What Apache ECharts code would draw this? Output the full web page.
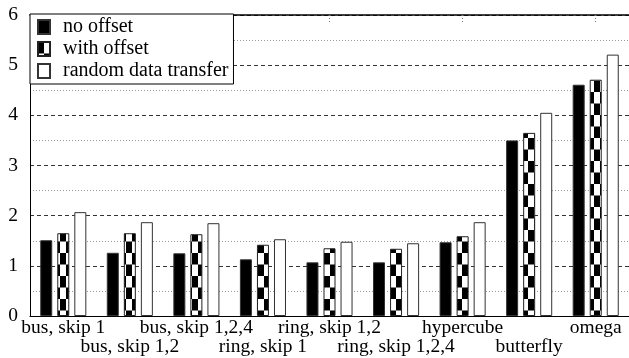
<!DOCTYPE html>
<html>
<head>
<meta charset="utf-8">
<script src="https://cdn.jsdelivr.net/npm/echarts@6/dist/echarts.min.js"></script>
<style>
html,body{margin:0;padding:0;background:#fff;}
#chart{width:629px;height:358px;}
</style>
</head>
<body>
<div id="chart"></div>
<script>
var categories = ['bus, skip 1','bus, skip 1,2','bus, skip 1,2,4','ring, skip 1','ring, skip 1,2','ring, skip 1,2,4','hypercube','butterfly','omega'];
var noOffset = [1.51, 1.26, 1.25, 1.13, 1.07, 1.07, 1.47, 3.50, 4.61];
var withOffset = [1.65, 1.65, 1.63, 1.42, 1.35, 1.34, 1.59, 3.65, 4.71];
var randomTransfer = [2.07, 1.87, 1.85, 1.53, 1.48, 1.45, 1.87, 4.05, 5.21];
var seriesNames = ['no offset', 'with offset', 'random data transfer'];
var yTicks = [0, 1, 2, 3, 4, 5, 6];

var FONT = 'Liberation Serif';

var pc = document.createElement('canvas');
pc.width = 12; pc.height = 23;
var g = pc.getContext('2d');
g.fillStyle = '#fff'; g.fillRect(0, 0, 12, 23);
g.fillStyle = '#000';
g.fillRect(0, 0, 6, 11.5);
g.fillRect(6, 11.5, 6, 11.5);
var checker = { image: pc, repeat: 'repeat' };

var chart = echarts.init(document.getElementById('chart'), null, { renderer: 'canvas' });
var option = {
  animation: false,
  backgroundColor: '#fff',
  textStyle: { fontFamily: FONT },
  grid: { left: 30, top: 15, width: 602, bottom: 42, containLabel: false },
  legend: {
    left: 30, top: 14,
    orient: 'vertical',
    icon: 'rect',
    backgroundColor: '#fff',
    borderColor: '#000', borderWidth: 1,
    borderRadius: 0,
    padding: [3, 5, 3, 7],
    itemWidth: 12, itemHeight: 14, itemGap: 2,
    textStyle: { fontFamily: FONT, fontSize: 20, color: '#000', padding: [0, 0, 0, 8], lineHeight: 18 },
    data: seriesNames,
    selectedMode: false
  },
  xAxis: [{
    type: 'category',
    data: categories,
    axisLine: { lineStyle: { color: '#000', width: 1 } },
    axisTick: { show: false },
    axisLabel: {
      interval: 0, margin: 2, color: '#000', fontFamily: FONT, fontSize: 19.5, lineHeight: 19,
      formatter: function (v, i) { return i % 2 === 1 ? '\n' + v : v; }
    },
    splitLine: { show: false }
  }, {
    type: 'category',
    data: categories,
    position: 'top',
    axisLine: { show: true, lineStyle: { color: '#000', width: 1.5 } },
    axisTick: { show: true, inside: true, length: 8, alignWithLabel: true, lineStyle: { color: '#777', type: [1, 2] } },
    axisLabel: { show: false }
  }],
  yAxis: {
    type: 'value',
    min: 0, max: 6, interval: 1,
    axisLine: { show: true, lineStyle: { color: '#000', width: 1 } },
    axisTick: { show: false },
    axisLabel: { color: '#000', fontFamily: FONT, fontSize: 19.5, margin: 12,
      formatter: function (v) { return yTicks.indexOf(v) >= 0 ? String(v) : ''; } },
    splitLine: { show: true, lineStyle: { color: '#333', type: [4, 3], width: 1 } },
    minorTick: { show: false, splitNumber: 2 },
    minorSplitLine: { show: true, lineStyle: { color: '#999', type: [1, 2], width: 1 } }
  },
  series: [{
    name: seriesNames[0], type: 'bar', data: noOffset,
    barWidth: 12, barGap: '42%',
    itemStyle: { color: '#000', borderColor: '#333', borderWidth: 1 }
  }, {
    name: seriesNames[1], type: 'bar', data: withOffset,
    barWidth: 12, barGap: '42%',
    itemStyle: { color: checker, borderColor: '#222', borderWidth: 1 }
  }, {
    name: seriesNames[2], type: 'bar', data: randomTransfer,
    barWidth: 12, barGap: '42%',
    itemStyle: { color: '#fff', borderColor: '#333', borderWidth: 1 }
  }]
};
chart.setOption(option);
</script>
</body>
</html>
